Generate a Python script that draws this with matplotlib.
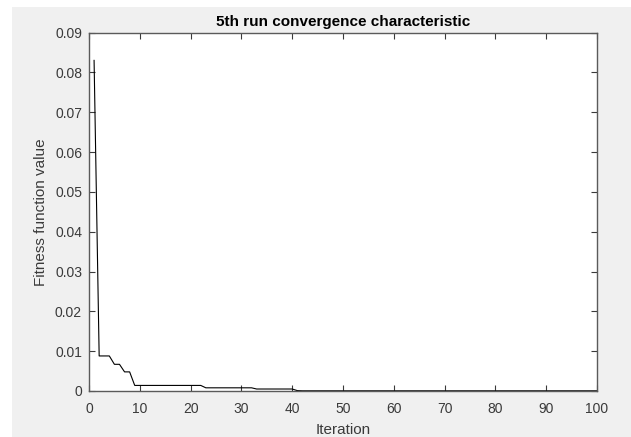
import matplotlib
matplotlib.use("Agg")
import matplotlib.pyplot as plt
from matplotlib.patches import Rectangle

plt.rcParams['font.family'] = ['Liberation Sans', 'DejaVu Sans']

title = "5th run convergence characteristic"
xlabel = "Iteration"
ylabel = "Fitness function value"

iterations = list(range(1, 101))
fitness = [
    0.0830, 0.0088, 0.0088, 0.0088, 0.0067, 0.0067, 0.0048, 0.0048, 0.0014, 0.0014,
    0.0014, 0.0014, 0.0014, 0.0014, 0.0014, 0.0014, 0.0014, 0.0014, 0.0014, 0.0014,
    0.0014, 0.0014, 0.0008, 0.0008, 0.0008, 0.0008, 0.0008, 0.0008, 0.0008, 0.0008,
    0.0008, 0.0008, 0.0005, 0.0005, 0.0005, 0.0005, 0.0005, 0.0005, 0.0005, 0.0005,
    0.0001, 0.00005, 0.00005, 0.00005, 0.00005, 0.00005, 0.00005, 0.00005, 0.00005, 0.00005,
    0.00005, 0.00005, 0.00005, 0.00005, 0.00005, 0.00005, 0.00005, 0.00005, 0.00005, 0.00005,
    0.00005, 0.00005, 0.00005, 0.00005, 0.00005, 0.00005, 0.00005, 0.00005, 0.00005, 0.00005,
    0.00005, 0.00005, 0.00005, 0.00005, 0.00005, 0.00005, 0.00005, 0.00005, 0.00005, 0.00005,
    0.00005, 0.00005, 0.00005, 0.00005, 0.00005, 0.00005, 0.00005, 0.00005, 0.00005, 0.00005,
    0.00005, 0.00005, 0.00005, 0.00005, 0.00005, 0.00005, 0.00005, 0.00005, 0.00005, 0.00005,
]
xticks = [0, 10, 20, 30, 40, 50, 60, 70, 80, 90, 100]
yticks = [0, 0.01, 0.02, 0.03, 0.04, 0.05, 0.06, 0.07, 0.08, 0.09]
ytick_labels = ["0", "0.01", "0.02", "0.03", "0.04", "0.05", "0.06", "0.07", "0.08", "0.09"]

W, H = 631, 437
fig = plt.figure(figsize=(W / 100, H / 100), dpi=100, facecolor='white')
fig.patches.append(Rectangle((12 / W, 0), 1 - 12 / W, (H - 7) / H,
                             transform=fig.transFigure, facecolor='#f0f0f0',
                             edgecolor='none', zorder=-10))

ax = fig.add_axes([89 / W, (H - 391) / H, (597 - 89) / W, (391 - 32.5) / H])
ax.set_facecolor('white')
ax.plot(iterations, fitness, color='black', linewidth=0.8)

ax.set_xlim(0, 100)
ax.set_ylim(0, 0.09)
ax.set_xticks(xticks)
ax.set_yticks(yticks)
ax.set_yticklabels(ytick_labels)

axc = '#3a3a3a'
for s in ax.spines.values():
    s.set_color('#5a5a5a')
    s.set_linewidth(1.0)
ax.tick_params(direction='in', length=4, width=0.8, colors=axc, labelsize=10,
               top=True, right=True, pad=5)
ax.tick_params(axis='x', pad=8)

ax.set_title(title, fontsize=11, fontweight='bold', color='black', pad=5)
ax.set_xlabel(xlabel, fontsize=11, color=axc, labelpad=5)
ax.set_ylabel(ylabel, fontsize=11, color=axc, labelpad=5)

fig.savefig("out.png", dpi=100, facecolor=fig.get_facecolor())
